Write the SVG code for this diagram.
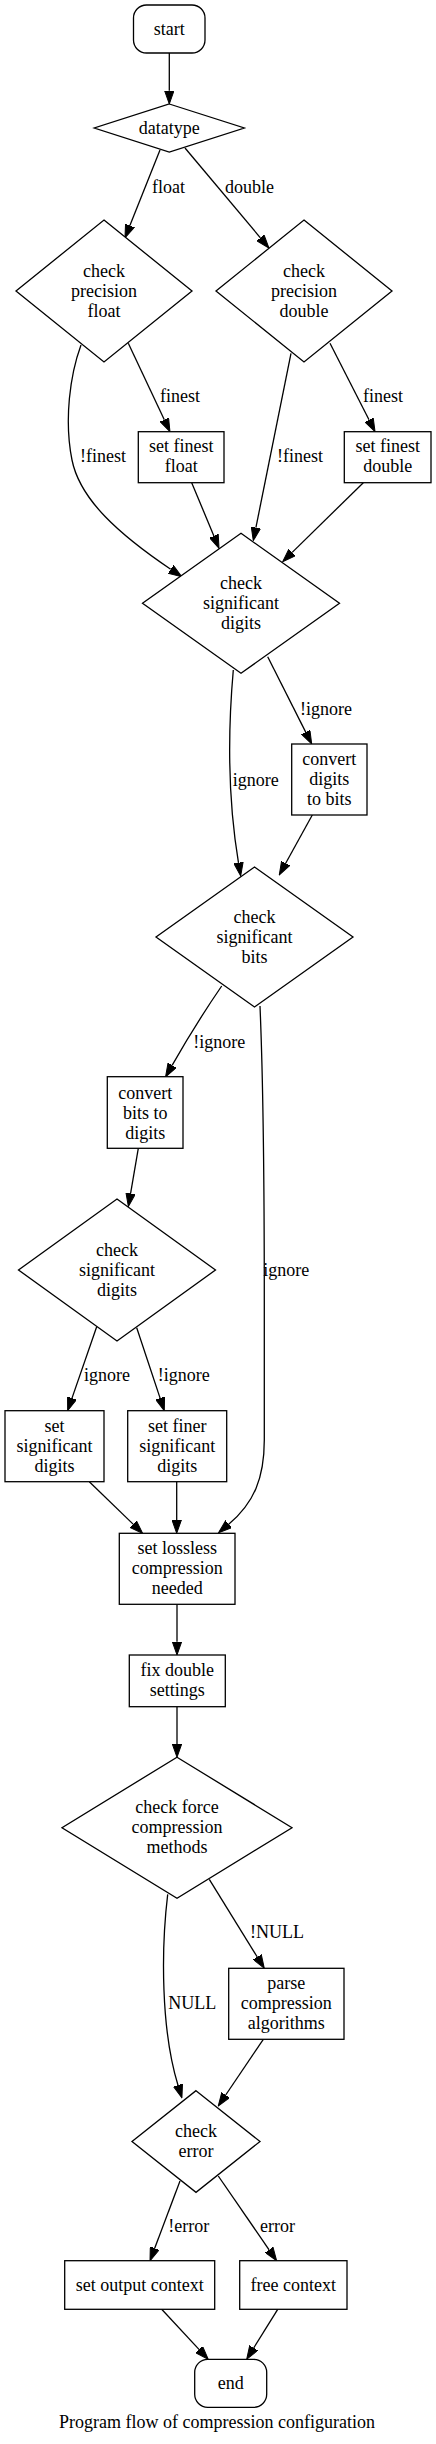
<svg xmlns="http://www.w3.org/2000/svg" width="436" height="2444" viewBox="0 0 436 2444">
<style>
.n{fill:#fff;stroke:#000;stroke-width:1.3}
.e{fill:none;stroke:#000;stroke-width:1.3}
text{font-family:"Liberation Serif","Times New Roman",serif;font-size:18px;fill:#000}
.c{text-anchor:middle}
</style>
<defs>
<marker id="ah" markerUnits="userSpaceOnUse" markerWidth="14" markerHeight="10" refX="0" refY="4.7" orient="auto" viewBox="0 0 14 9.4">
<path d="M0,0 L13.3,4.7 L0,9.4 z" fill="#000" stroke="#000" stroke-width="1"/>
</marker>
</defs>
<rect width="436" height="2444" fill="#fff"/>
<g id="edges">
<path class="e" marker-end="url(#ah)" d="M169.3,53 L169.3,90.7"/>
<path class="e" marker-end="url(#ah)" d="M160,150 L129.9,225.6"/>
<text x="152" y="192.5">float</text>
<path class="e" marker-end="url(#ah)" d="M185,148 L260.4,237.8"/>
<text x="225" y="192.5">double</text>
<path class="e" marker-end="url(#ah)" d="M81,345 C70,375 64,420 72,460 C80,500 120,535 170.7,569.3"/>
<text x="80" y="461.7">!finest</text>
<path class="e" marker-end="url(#ah)" d="M128.3,343.3 L164.3,419.7"/>
<text x="160" y="401.7">finest</text>
<path class="e" marker-end="url(#ah)" d="M191.7,482.7 L213.9,536"/>
<path class="e" marker-end="url(#ah)" d="M291,353.3 L255.9,527.6"/>
<text x="277" y="461.7">!finest</text>
<path class="e" marker-end="url(#ah)" d="M330,343.3 L369,419.8"/>
<text x="363" y="401.7">finest</text>
<path class="e" marker-end="url(#ah)" d="M363.3,482.7 L292.2,552.4"/>
<path class="e" marker-end="url(#ah)" d="M233.3,670 C228,730 228,800 238.5,862.8"/>
<text x="232.7" y="785.5">ignore</text>
<path class="e" marker-end="url(#ah)" d="M267.7,656.7 L305.7,732.1"/>
<text x="300" y="714.5">!ignore</text>
<path class="e" marker-end="url(#ah)" d="M312.3,815 L285.7,863.3"/>
<path class="e" marker-end="url(#ah)" d="M221.7,986 Q195,1025 172.1,1065.4"/>
<text x="193.3" y="1048">!ignore</text>
<path class="e" marker-end="url(#ah)" d="M260,1006 C264,1100 264.3,1200 264.3,1300 L264.3,1440 C264.3,1478 254,1503 228.7,1524.2"/>
<text x="263.3" y="1276">ignore</text>
<path class="e" marker-end="url(#ah)" d="M138.3,1148.3 L130.6,1193.4"/>
<path class="e" marker-end="url(#ah)" d="M96.7,1326.7 L72,1398.1"/>
<text x="84" y="1381">ignore</text>
<path class="e" marker-end="url(#ah)" d="M136.7,1327.7 L160.1,1398.1"/>
<text x="157.7" y="1381">!ignore</text>
<path class="e" marker-end="url(#ah)" d="M89.3,1481.7 L133.1,1524.1"/>
<path class="e" marker-end="url(#ah)" d="M176.7,1481.7 L176.7,1520"/>
<path class="e" marker-end="url(#ah)" d="M177,1604.3 L177,1641.7"/>
<path class="e" marker-end="url(#ah)" d="M177,1706.7 L177,1744"/>
<path class="e" marker-end="url(#ah)" d="M167.7,1894.3 C161,1950 161,2030 178,2085.2"/>
<text x="168.3" y="2009.3">NULL</text>
<path class="e" marker-end="url(#ah)" d="M209.3,1879.3 L257.3,1957"/>
<text x="250" y="1938.3">!NULL</text>
<path class="e" marker-end="url(#ah)" d="M263.3,2039.3 L225.7,2095"/>
<path class="e" marker-end="url(#ah)" d="M180,2181 L154.7,2248.3"/>
<text x="168.3" y="2231.7">!error</text>
<path class="e" marker-end="url(#ah)" d="M218.3,2176 L269.1,2249.8"/>
<text x="260" y="2231.7">error</text>
<path class="e" marker-end="url(#ah)" d="M161.7,2309.3 L199.2,2349.6"/>
<path class="e" marker-end="url(#ah)" d="M277.7,2309.3 L253.7,2348"/>
</g>
<g id="start"><rect class="n" x="133.5" y="5" width="71.5" height="48" rx="13"/><text class="c" x="169.3" y="34.5">start</text></g>
<g id="datatype"><polygon class="n" points="169.3,104 244.3,128 169.3,152 94.3,128"/><text class="c" x="169.3" y="133.5">datatype</text></g>
<g id="check_precision_float"><polygon class="n" points="104,220 192,291 104,362 16,291"/><text class="c" x="104" y="276.5">check</text><text class="c" x="104" y="296.5">precision</text><text class="c" x="104" y="316.5">float</text></g>
<g id="check_precision_double"><polygon class="n" points="304,220 392,291 304,362 216,291"/><text class="c" x="304" y="276.5">check</text><text class="c" x="304" y="296.5">precision</text><text class="c" x="304" y="316.5">double</text></g>
<g id="set_finest_float"><rect class="n" x="138.3" y="431.7" width="85.7" height="51"/><text class="c" x="181.2" y="451.7">set finest</text><text class="c" x="181.2" y="471.7">float</text></g>
<g id="set_finest_double"><rect class="n" x="344.3" y="431.7" width="86.7" height="51"/><text class="c" x="387.7" y="451.7">set finest</text><text class="c" x="387.7" y="471.7">double</text></g>
<g id="check_significant_digits"><polygon class="n" points="241,533.3 339.5,603.3 241,673.3 142.5,603.3"/><text class="c" x="241" y="588.8">check</text><text class="c" x="241" y="608.8">significant</text><text class="c" x="241" y="628.8">digits</text></g>
<g id="convert_digits_to_bits"><rect class="n" x="291.7" y="744" width="75.3" height="71"/><text class="c" x="329.3" y="765">convert</text><text class="c" x="329.3" y="785">digits</text><text class="c" x="329.3" y="805">to bits</text></g>
<g id="check_significant_bits"><polygon class="n" points="254.5,867 353,937 254.5,1007 156,937"/><text class="c" x="254.5" y="922.5">check</text><text class="c" x="254.5" y="942.5">significant</text><text class="c" x="254.5" y="962.5">bits</text></g>
<g id="convert_bits_to_digits"><rect class="n" x="107.3" y="1076.7" width="75.7" height="71.6"/><text class="c" x="145.2" y="1098.5">convert</text><text class="c" x="145.2" y="1118.5">bits to</text><text class="c" x="145.2" y="1138.5">digits</text></g>
<g id="check_significant_digits_2"><polygon class="n" points="117,1199 215.5,1270 117,1341 18.5,1270"/><text class="c" x="117" y="1255.5">check</text><text class="c" x="117" y="1275.5">significant</text><text class="c" x="117" y="1295.5">digits</text></g>
<g id="set_significant_digits"><rect class="n" x="5" y="1410.7" width="99" height="71"/><text class="c" x="54.5" y="1431.7">set</text><text class="c" x="54.5" y="1451.7">significant</text><text class="c" x="54.5" y="1471.7">digits</text></g>
<g id="set_finer_significant_digits"><rect class="n" x="127.7" y="1410.7" width="99" height="71"/><text class="c" x="177.2" y="1431.7">set finer</text><text class="c" x="177.2" y="1451.7">significant</text><text class="c" x="177.2" y="1471.7">digits</text></g>
<g id="set_lossless_compression_needed"><rect class="n" x="119.3" y="1533.3" width="115.7" height="71"/><text class="c" x="177.2" y="1554.3">set lossless</text><text class="c" x="177.2" y="1574.3">compression</text><text class="c" x="177.2" y="1594.3">needed</text></g>
<g id="fix_double_settings"><rect class="n" x="129.3" y="1655" width="96" height="51.7"/><text class="c" x="177.3" y="1676.3">fix double</text><text class="c" x="177.3" y="1696.3">settings</text></g>
<g id="check_force_compression_methods"><polygon class="n" points="177,1757.2 292,1827.7 177,1898.2 62,1827.7"/><text class="c" x="177" y="1813.2">check force</text><text class="c" x="177" y="1833.2">compression</text><text class="c" x="177" y="1853.2">methods</text></g>
<g id="parse_compression_algorithms"><rect class="n" x="228.7" y="1968.3" width="115.3" height="71"/><text class="c" x="286.3" y="1989.3">parse</text><text class="c" x="286.3" y="2009.3">compression</text><text class="c" x="286.3" y="2029.3">algorithms</text></g>
<g id="check_error"><polygon class="n" points="196,2090.7 260,2141.5 196,2192.3 132,2141.5"/><text class="c" x="196" y="2137">check</text><text class="c" x="196" y="2157">error</text></g>
<g id="set_output_context"><rect class="n" x="64.7" y="2260.7" width="150" height="48.6"/><text class="c" x="139.7" y="2290.5">set output context</text></g>
<g id="free_context"><rect class="n" x="239.7" y="2260.7" width="107.3" height="48.6"/><text class="c" x="293.3" y="2290.5">free context</text></g>
<g id="end"><rect class="n" x="194.7" y="2359.3" width="72" height="48" rx="13"/><text class="c" x="230.7" y="2388.8">end</text></g>
<g id="title"><text class="c" x="217" y="2428">Program flow of compression configuration</text></g>
</svg>
